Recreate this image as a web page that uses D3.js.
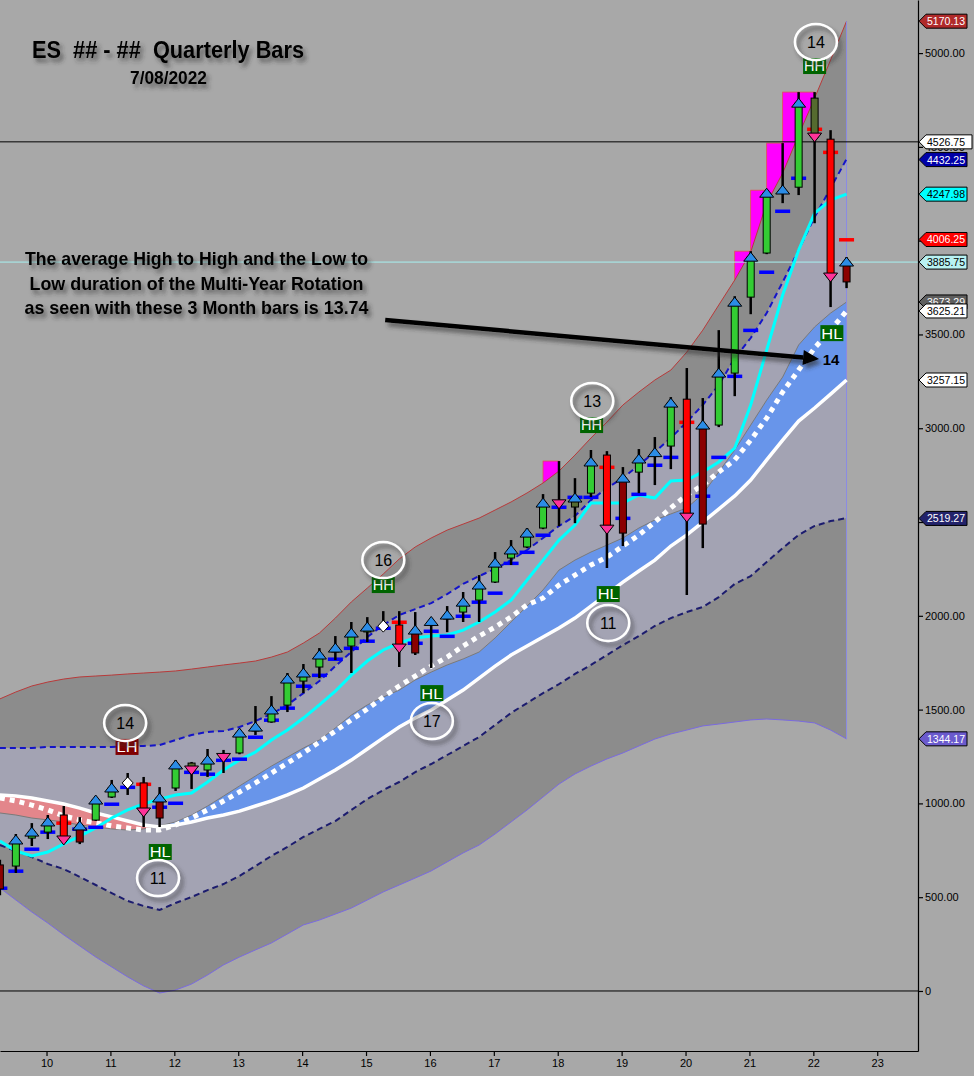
<!DOCTYPE html>
<html>
<head>
<meta charset="utf-8">
<script src="https://cdn.jsdelivr.net/npm/d3@7"></script>
<style>
body { margin: 0; background: #a8a8a8; }
svg { display: block; font-family: "Liberation Sans", Arial, sans-serif; }
</style>
</head>
<body>
<div id="chart"></div>
<script>
// quarterly bars, back-adjusted ES continuation
const quarters = ["2009Q2","2009Q3","2009Q4",
  "2010Q1","2010Q2","2010Q3","2010Q4","2011Q1","2011Q2","2011Q3","2011Q4",
  "2012Q1","2012Q2","2012Q3","2012Q4","2013Q1","2013Q2","2013Q3","2013Q4",
  "2014Q1","2014Q2","2014Q3","2014Q4","2015Q1","2015Q2","2015Q3","2015Q4",
  "2016Q1","2016Q2","2016Q3","2016Q4","2017Q1","2017Q2","2017Q3","2017Q4",
  "2018Q1","2018Q2","2018Q3","2018Q4","2019Q1","2019Q2","2019Q3","2019Q4",
  "2020Q1","2020Q2","2020Q3","2020Q4","2021Q1","2021Q2","2021Q3","2021Q4",
  "2022Q1","2022Q2","2022Q3"];
const opens = [544,666,815,847,938,794,911,1034,1109,1109,922,1082,1215,1178,1250,1269,1386,1434,1524,1652,1727,1807,1839,1914,1945,1951,1802,1965,1983,2020,2084,2180,2308,2367,2468,2603,2580,2654,2857,2441,2766,2865,2905,3155,2489,3017,3294,3699,3934,4262,4285,4760,4541,3780];
const highs = [700,837,895,938,986,927,1034,1125,1162,1141,1087,1231,1221,1290,1285,1397,1519,1572,1695,1743,1828,1892,1967,1993,2025,2025,2020,1988,2052,2127,2217,2340,2404,2468,2649,2825,2734,2884,2878,2793,2889,2953,3166,3321,3161,3523,3704,3944,4269,4520,4792,4792,4589,3912];
const lows = [510,629,773,810,794,783,906,1029,1045,874,874,1066,1077,1141,1162,1262,1365,1430,1487,1588,1668,1764,1695,1860,1924,1727,1791,1722,1913,1967,1967,2175,2271,2361,2462,2478,2494,2633,2255,2372,2654,2697,2782,2111,2361,3006,3171,3608,3928,4200,4243,4093,3646,3747];
const closes = [672,805,847,901,805,880,1018,1082,1109,954,1029,1205,1178,1231,1245,1375,1407,1498,1663,1695,1791,1828,1908,1940,1945,1828,1924,1970,2004,2073,2164,2281,2351,2441,2601,2597,2628,2820,2462,2734,2836,2870,3134,2526,3017,3294,3672,3912,4253,4270,4733,4552,3806,3886];
// g green, r red, d dark red, o olive, x doji, w diamond
const bodyKind = ["d","g","g","g","r","d","g","g","w","r","d","g","o","g","x","g","g","g","g","g","g","g","g","g","w","r","d","x","g","g","g","g","g","g","g","x","o","g","r","d","g","x","g","r","d","g","g","g","g","x","g","o","r","d"];
// u = blue up triangle on body top, n = pink down triangle on body bottom
const marks = ["","u","u","u","n","u","u","u","","n","u","u","n","u","n","u","u","u","u","u","u","u","u","u","","n","u","u","u","u","u","u","u","u","u","n","u","u","n","u","u","u","u","n","u","u","u","u","u","u","u","n","n","u"];
const stopLevels = [549,640,757,848,896,864,874,997,1087,1103,981,1002,1167,1157,1231,1237,1354,1445,1509,1626,1684,1770,1828,1866,1935,1967,1855,1919,1892,1999,2074,2122,2281,2340,2431,2580,2633,2633,2793,2521,2649,2804,2846,3033,2639,2846,3278,3523,3833,4158,4334,4595,4472,4006];
const stopSide = ["b","b","b","b","r","b","b","b","b","r","b","b","b","b","b","b","b","b","b","b","b","b","b","b","b","r","b","b","b","b","b","b","b","b","b","b","b","b","r","b","b","b","b","r","b","b","b","b","b","b","b","r","r","r"];

// bands and averages
const outerUpper = [1557,1594,1626,1647,1663,1674,1679,1684,1690,1695,1700,1706,1716,1727,1738,1748,1759,1780,1807,1855,1908,1988,2074,2148,2223,2303,2367,2415,2457,2489,2521,2564,2607,2655,2708,2772,2857,2948,3033,3124,3193,3257,3310,3406,3523,3657,3790,3939,4200,4360,4563,4760,4963,5170];
const outerLower = [549,485,421,362,299,240,181,128,75,27,-11,5,37,85,139,181,219,256,304,352,378,410,442,485,528,565,602,640,688,736,778,837,901,965,1034,1103,1157,1199,1237,1269,1306,1343,1370,1391,1413,1423,1434,1445,1450,1445,1439,1429,1391,1344];
const innerUpper = [1295,1295,1295,1301,1301,1301,1301,1301,1306,1306,1311,1338,1365,1381,1386,1407,1439,1477,1525,1588,1652,1732,1807,1887,1951,2004,2036,2068,2116,2170,2212,2250,2297,2351,2415,2479,2532,2617,2681,2735,2804,2873,2948,3033,3124,3230,3374,3481,3614,3779,3950,4126,4280,4435];
const innerLower = [778,746,714,677,650,608,565,522,480,453,432,469,501,538,570,613,666,720,768,821,864,906,965,1023,1071,1114,1167,1210,1258,1306,1354,1418,1482,1535,1588,1636,1690,1738,1791,1844,1892,1946,1988,2020,2047,2100,2170,2212,2287,2361,2431,2479,2505,2521];
const cyanAvg = [800,746,720,741,784,826,869,922,965,997,1023,1045,1055,1114,1178,1231,1274,1338,1391,1455,1525,1599,1684,1759,1818,1855,1882,1892,1898,1924,1967,2020,2084,2191,2297,2404,2484,2601,2601,2601,2644,2628,2719,2724,2767,2820,2894,3124,3417,3710,3950,4147,4216,4248];
const whiteAvg = [1045,1039,1029,1013,997,975,949,928,906,885,874,885,901,922,938,959,986,1013,1045,1082,1130,1178,1231,1290,1349,1407,1455,1498,1551,1604,1668,1732,1791,1839,1887,1935,1988,2052,2116,2180,2239,2297,2372,2431,2500,2569,2639,2724,2831,2937,3038,3108,3182,3257];
const dottedAvg = [1029,1013,991,965,933,912,896,880,869,858,858,885,922,965,1013,1061,1109,1162,1215,1269,1327,1386,1445,1503,1567,1626,1679,1732,1780,1839,1892,1940,1994,2058,2095,2164,2217,2271,2313,2372,2431,2500,2575,2644,2697,2767,2831,2937,3054,3193,3310,3428,3523,3625];
const grayAvg = [949,938,922,912,901,885,874,864,858,864,880,901,938,986,1039,1093,1146,1199,1247,1295,1338,1402,1471,1525,1567,1604,1658,1700,1738,1770,1807,1882,1967,2052,2138,2244,2297,2340,2377,2415,2468,2511,2543,2575,2649,2767,2884,3017,3150,3273,3444,3540,3614,3673];

// cycle counts and pivot labels
const cycleText = ["14","11","16","17","13","11","14"];
const cycleTime = [2011.23,2011.745,2015.27,2016.03,2018.54,2018.79,2022.04];
const cycleValue = [1429,602,2297,1439,3145,1962,5059];
const pivotText = ["LH","HL","HH","HL","HH","HL","HH","HL"];
const pivotTime = [2011.26,2011.78,2015.27,2016.03,2018.53,2018.79,2022.02,2022.29];
const pivotValue = [1301,741,2164,1588,3017,2116,4931,3507];

// price tags on the right scale
const tagValues = [5170.13,4526.75,4432.25,4247.98,4006.25,3885.75,3673.29,3625.21,3257.15,2519.27,1344.17];
const yTicks = [0,500,1000,1500,2000,2500,3000,3500,4000,4500,5000];
const xTicks = [2010,2011,2012,2013,2014,2015,2016,2017,2018,2019,2020,2021,2022,2023];

const tagFill = ["#b02a2a","#ffffff","#0000a8","#00ffff","#ff0000","#b8f2f2","#5e5e5e","#ffffff","#ffffff","#23236b","#6a5acd"];
const tagInk = ["#fff","#000","#fff","#000","#fff","#000","#fff","#000","#000","#fff","#fff"];
const tagWide = [48,53,48,48,48,48,48,48,48,48,48];
const bodyFill = { g: "#33cc33", r: "#ff0000", d: "#8b0000", o: "#556b2f" };

const W = 974, H = 1076, PR = 918, PB = 1051;
const svg = d3.select("#chart").append("svg").attr("width", W).attr("height", H);
const defs = svg.append("defs");
defs.append("clipPath").attr("id", "plotClip").append("rect")
    .attr("width", PR).attr("height", PB);
const sh = defs.append("filter").attr("id", "shadow")
    .attr("x", "-30%").attr("y", "-30%").attr("width", "170%").attr("height", "180%");
sh.append("feDropShadow").attr("dx", 3).attr("dy", 4).attr("stdDeviation", 2)
    .attr("flood-color", "#333").attr("flood-opacity", 0.65);

svg.append("rect").attr("width", W).attr("height", H).attr("fill", "#a8a8a8");

const x = d3.scaleLinear().domain([2009.272, 2023.638]).range([0, PR]);
const y = d3.scaleLinear().domain([-320, 5283]).range([PB, 0]);

// bar time = quarter start (small offset so bars sit like the original)
const barT = quarters.map(q => +q.slice(0, 4) + (+q.slice(5) - 1) * 0.25 + 0.02);
const bx = i => x(barT[i]);
const idx = d3.range(quarters.length);

const g = svg.append("g").attr("clip-path", "url(#plotClip)");

// magenta steps where the high pokes over the outer band
const over = idx.filter(i => i > 0 && highs[i] > outerUpper[i]);
g.selectAll(".mag").data(over).join("rect")
    .attr("x", i => bx(i - 1)).attr("width", i => bx(i) - bx(i - 1))
    .attr("y", i => y(highs[i]))
    .attr("height", i => y(Math.min(outerUpper[i - 1], outerUpper[i])) - y(highs[i]) + 2)
    .attr("fill", "#ff00ff").attr("stroke", "#e05050").attr("stroke-width", 0.8);

const band = (lo, hi) => d3.area()
    .x(i => bx(i)).y0(i => y(lo(i))).y1(i => y(hi(i)))(idx);
const line = arr => d3.line().x((d, i) => bx(i)).y(d => y(d))(arr);

g.append("path").attr("d", band(i => outerLower[i], i => outerUpper[i])).attr("fill", "#8c8c8c");
g.append("path").attr("d", band(i => innerLower[i], i => innerUpper[i])).attr("fill", "#a3a3b3");
g.append("path").attr("d", band(i => whiteAvg[i], i => Math.max(grayAvg[i], whiteAvg[i]))).attr("fill", "#6895ea");
g.append("path").attr("d", band(i => whiteAvg[i], i => Math.min(grayAvg[i], whiteAvg[i]))).attr("fill", "#e3868b");

g.append("path").attr("d", line(grayAvg)).attr("fill", "none").attr("stroke", "#7a7a7a").attr("stroke-width", 1);
g.append("path").attr("d", line(outerUpper)).attr("fill", "none").attr("stroke", "#b83a3a").attr("stroke-width", 1);
g.append("path").attr("d", line(outerLower)).attr("fill", "none").attr("stroke", "#7a6ae0").attr("stroke-width", 1);
g.append("line").attr("x1", bx(quarters.length - 1)).attr("x2", bx(quarters.length - 1))
    .attr("y1", y(outerUpper[quarters.length - 1])).attr("y2", y(outerLower[quarters.length - 1]))
    .attr("stroke", "#8a8ae6").attr("stroke-width", 1);
g.append("path").attr("d", line(innerUpper)).attr("fill", "none").attr("stroke", "#1414c8")
    .attr("stroke-width", 2).attr("stroke-dasharray", "6,4");
g.append("path").attr("d", line(innerLower)).attr("fill", "none").attr("stroke", "#1c1c6e")
    .attr("stroke-width", 2).attr("stroke-dasharray", "6,4");

// reference lines
g.append("line").attr("x1", 0).attr("x2", PR).attr("y1", y(4526.75)).attr("y2", y(4526.75))
    .attr("stroke", "#000").attr("stroke-width", 1);
g.append("line").attr("x1", 0).attr("x2", PR).attr("y1", y(3885.75)).attr("y2", y(3885.75))
    .attr("stroke", "#a8f2f2").attr("stroke-width", 1);
g.append("line").attr("x1", 0).attr("x2", PR).attr("y1", y(0)).attr("y2", y(0))
    .attr("stroke", "#000").attr("stroke-width", 1);

g.append("path").attr("d", line(whiteAvg)).attr("fill", "none").attr("stroke", "#fff").attr("stroke-width", 3.5);
g.append("path").attr("d", line(dottedAvg)).attr("fill", "none").attr("stroke", "#fff")
    .attr("stroke-width", 5).attr("stroke-dasharray", "5,5");
g.append("path").attr("d", line(cyanAvg)).attr("fill", "none").attr("stroke", "#00ffff").attr("stroke-width", 3);

// stop dashes
g.selectAll(".stop").data(idx).join("rect")
    .attr("x", i => bx(i) - 7.5).attr("width", 15)
    .attr("y", i => y(stopLevels[i]) - 1.5).attr("height", 3.5)
    .attr("fill", i => stopSide[i] === "r" ? "#ff0000" : "#0000ff");

// candles
const cg = g.append("g");
cg.selectAll(".wick").data(idx).join("line")
    .attr("x1", i => bx(i)).attr("x2", i => bx(i))
    .attr("y1", i => y(highs[i])).attr("y2", i => y(lows[i]))
    .attr("stroke", "#000").attr("stroke-width", 2.5);
const bodies = idx.filter(i => bodyFill[bodyKind[i]]);
cg.selectAll(".body").data(bodies).join("rect")
    .attr("x", i => bx(i) - 3.5).attr("width", 7)
    .attr("y", i => y(Math.max(opens[i], closes[i])))
    .attr("height", i => Math.max(1, y(Math.min(opens[i], closes[i])) - y(Math.max(opens[i], closes[i]))))
    .attr("fill", i => bodyFill[bodyKind[i]]).attr("stroke", "#000").attr("stroke-width", 1);
cg.selectAll(".dia").data(idx.filter(i => bodyKind[i] === "w")).join("path")
    .attr("d", i => { const cx = bx(i), cy = y(closes[i]); return `M${cx},${cy - 6}L${cx + 5.5},${cy}L${cx},${cy + 6}L${cx - 5.5},${cy}Z`; })
    .attr("fill", "#fff").attr("stroke", "#000").attr("stroke-width", 1);
cg.selectAll(".up").data(idx.filter(i => marks[i] === "u")).join("path")
    .attr("d", i => { const cx = bx(i), cy = y(Math.max(opens[i], closes[i])); return `M${cx - 7},${cy + 4}L${cx + 7},${cy + 4}L${cx},${cy - 5}Z`; })
    .attr("fill", "#2b8ce6").attr("stroke", "#000").attr("stroke-width", 1);
cg.selectAll(".dn").data(idx.filter(i => marks[i] === "n")).join("path")
    .attr("d", i => { const cx = bx(i), cy = y(Math.min(opens[i], closes[i])); return `M${cx - 7},${cy - 4}L${cx + 7},${cy - 4}L${cx},${cy + 5}Z`; })
    .attr("fill", "#ff3399").attr("stroke", "#000").attr("stroke-width", 1);

// arrow with shadow
const ax1 = x(2015.3), ay1 = y(3577), ax2 = x(2022.09), ay2 = y(3369);
const ang = Math.atan2(ay2 - ay1, ax2 - ax1), hl = 16, hw = 7.5;
const bxh = ax2 - hl * Math.cos(ang), byh = ay2 - hl * Math.sin(ang);
const arrow = g.append("g").attr("filter", "url(#shadow)");
arrow.append("line").attr("x1", ax1).attr("y1", ay1).attr("x2", bxh).attr("y2", byh)
    .attr("stroke", "#000").attr("stroke-width", 4.5);
arrow.append("path")
    .attr("d", `M${ax2},${ay2}L${bxh + hw * Math.sin(ang)},${byh - hw * Math.cos(ang)}L${bxh - hw * Math.sin(ang)},${byh + hw * Math.cos(ang)}Z`)
    .attr("fill", "#000");
g.append("text").attr("x", x(2022.277)).attr("y", y(3364)).attr("dy", "0.35em")
    .attr("text-anchor", "middle").attr("font-size", 15).attr("font-weight", "bold").text("14");

// pivot boxes
const pv = g.selectAll(".pv").data(d3.range(pivotText.length)).join("g")
    .attr("transform", i => `translate(${x(pivotTime[i])},${y(pivotValue[i])})`);
pv.append("rect").attr("x", -11.5).attr("y", -8).attr("width", 23).attr("height", 16)
    .attr("fill", i => pivotText[i] === "LH" ? "#800000" : "#006400");
pv.append("text").attr("text-anchor", "middle").attr("dy", "0.36em").attr("font-size", 15)
    .attr("fill", "#fff").attr("textLength", 21).attr("lengthAdjust", "spacingAndGlyphs")
    .text(i => pivotText[i]);

// cycle circles
const cy = g.selectAll(".cy").data(d3.range(cycleText.length)).join("g")
    .attr("transform", i => `translate(${x(cycleTime[i])},${y(cycleValue[i])})`);
cy.append("ellipse").attr("rx", 21).attr("ry", 18).attr("fill", "none")
    .attr("stroke", "#fff").attr("stroke-width", 2.5).attr("filter", "url(#shadow)");
cy.append("text").attr("text-anchor", "middle").attr("dy", "0.36em").attr("font-size", 16)
    .attr("fill", "#000").text(i => cycleText[i]);

// axes
const ya = svg.append("g").attr("transform", `translate(${PR},0)`)
    .call(d3.axisRight(y).tickValues(yTicks).tickSize(5).tickSizeOuter(0).tickPadding(2)
        .tickFormat(d => d === 0 ? "0" : d.toFixed(2)));
const xa = svg.append("g").attr("transform", `translate(0,${PB})`)
    .call(d3.axisBottom(x).tickValues(xTicks).tickSize(5).tickSizeOuter(0).tickPadding(3)
        .tickFormat(d => String(d).slice(2)));
[ya, xa].forEach(a => {
  a.selectAll("text").attr("font-family", "'Liberation Sans', Arial, sans-serif")
      .attr("font-size", 11).attr("fill", "#000");
  a.selectAll("line,path").attr("stroke", "#000").attr("stroke-width", 1.2);
});

// price tags (they sit over the tick labels, as in the platform)
const tg = svg.append("g").selectAll("g").data(d3.range(tagValues.length)).join("g")
    .attr("transform", i => `translate(${PR + 1},${y(tagValues[i])})`);
tg.append("path").attr("d", i => `M0,0L7,-7H${tagWide[i]}V7H7Z`)
    .attr("fill", i => tagFill[i]).attr("stroke", "#000").attr("stroke-width", 1);
tg.append("text").attr("x", 8).attr("dy", "0.36em").attr("font-size", 11)
    .attr("textLength", 38).attr("lengthAdjust", "spacingAndGlyphs")
    .attr("fill", i => tagInk[i]).text(i => tagValues[i].toFixed(2));

// titles and note
const tx = svg.append("g").attr("filter", "url(#shadow)").attr("font-weight", "bold").attr("fill", "#000");
tx.append("text").attr("x", 32).attr("y", 58).attr("font-size", 23).style("white-space", "pre")
    .attr("textLength", 272).attr("lengthAdjust", "spacingAndGlyphs").text("ES  ## - ##  Quarterly Bars");
tx.append("text").attr("x", 130).attr("y", 84).attr("font-size", 18)
    .attr("textLength", 77).attr("lengthAdjust", "spacingAndGlyphs").text("7/08/2022");
const note = ["The average High to High and the Low to",
              "Low duration of the Multi-Year Rotation",
              "as seen with these 3 Month bars is 13.74"];
const noteW = [343, 334, 344];
tx.selectAll(".note").data(note).join("text")
    .attr("x", 196.5).attr("y", (d, i) => 265 + i * 24.5).attr("text-anchor", "middle")
    .attr("font-size", 18.5).attr("textLength", (d, i) => noteW[i]).attr("lengthAdjust", "spacingAndGlyphs")
    .text(d => d);
</script>
</body>
</html>
